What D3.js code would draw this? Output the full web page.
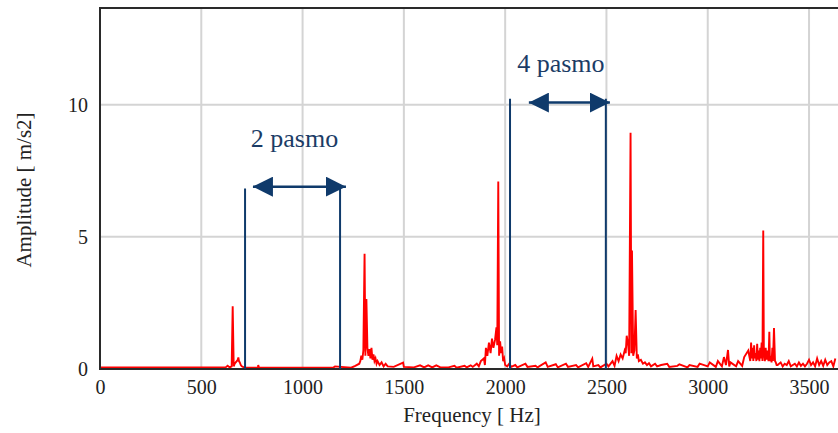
<!DOCTYPE html>
<html>
<head>
<meta charset="utf-8">
<script src="https://cdn.jsdelivr.net/npm/d3@7"></script>
<style>
  body { margin: 0; background: #fff; }
  svg { display: block; }
</style>
</head>
<body>
<div id="chart"></div>
<script>
// spectrum (Hz, m/s2)
var freqs = [0, 100, 200, 300, 400, 500, 600, 620, 630, 640, 650, 655, 660, 665, 670, 675, 680, 683, 686, 690, 695, 700, 710, 720,
    780, 781, 785, 900, 1000, 1100, 1150, 1160, 1240, 1260, 1280,
    1285, 1290, 1295, 1300, 1306, 1310, 1315, 1320, 1325, 1330, 1335, 1340, 1345, 1350, 1355, 1360, 1365, 1370, 1380, 1390, 1400, 1410, 1420,
    1450, 1496, 1500, 1550, 1580, 1600, 1620, 1640, 1660, 1680, 1720, 1750, 1760, 1800, 1810, 1830, 1840, 1860, 1870, 1880,
    1895, 1900, 1905, 1912, 1920, 1928, 1935, 1942, 1950, 1957, 1961, 1966, 1970, 1975, 1980, 1985, 1990, 1995, 2000, 2010, 2020,
    2030, 2050, 2060, 2100, 2110, 2150, 2160, 2200, 2210, 2250, 2260, 2300, 2310, 2350, 2360, 2400, 2410, 2430, 2435, 2460, 2470, 2500, 2510, 2530, 2540, 2550,
    2560, 2570, 2580, 2590, 2595, 2600, 2607, 2612, 2619, 2623, 2626, 2632, 2638, 2644, 2650, 2655, 2660, 2670, 2680, 2690, 2700, 2710, 2720,
    2740, 2750, 2770, 2800, 2810, 2850, 2860, 2900, 2910, 2950, 2960, 3000, 3010, 3040, 3050, 3070, 3080, 3090, 3100, 3106, 3112, 3140, 3150, 3170, 3180, 3200,
    3210, 3214, 3218, 3222, 3225, 3229, 3232, 3236, 3240, 3244, 3248, 3252, 3255, 3259, 3262, 3266, 3270, 3274, 3277, 3282, 3286, 3290, 3295, 3300, 3304, 3307, 3311, 3315, 3319, 3322, 3327, 3332, 3336, 3340, 3345, 3360,
    3370, 3380, 3390, 3400, 3410, 3420, 3430, 3440, 3450, 3460, 3470, 3480, 3490, 3500, 3510, 3520, 3530, 3540, 3550, 3560, 3570, 3580, 3590, 3600, 3610, 3620, 3630, 3645]
var amps = [0.06, 0.06, 0.06, 0.06, 0.06, 0.06, 0.06, 0.06, 0.12, 0.06, 0.1, 2.37, 0.1, 0.2, 0.25, 0.3, 0.35, 0.44, 0.3, 0.25, 0.15, 0.1, 0.06, 0.05,
    0.05, 0.15, 0.05, 0.05, 0.05, 0.05, 0.05, 0.1, 0.05, 0.12, 0.2,
    0.3, 0.5, 0.35, 0.7, 4.36, 0.5, 2.65, 0.8, 0.5, 0.75, 0.4, 0.8, 0.35, 0.55, 0.3, 0.4, 0.2, 0.3, 0.15, 0.25, 0.1, 0.2, 0.1,
    0.08, 0.24, 0.08, 0.06, 0.14, 0.06, 0.14, 0.06, 0.14, 0.06, 0.06, 0.12, 0.05, 0.12, 0.06, 0.14, 0.08, 0.2, 0.1, 0.3,
    0.4, 0.15, 0.8, 0.5, 1.0, 0.6, 1.15, 0.8, 1.1, 1.58, 0.9, 7.09, 0.5, 1.05, 0.6, 0.85, 0.3, 0.4, 0.15, 0.1, 0.2,
    0.08, 0.15, 0.06, 0.2, 0.08, 0.12, 0.06, 0.25, 0.08, 0.18, 0.06, 0.2, 0.08, 0.15, 0.06, 0.22, 0.08, 0.39, 0.1, 0.15, 0.06, 0.2, 0.1, 0.3, 0.12, 0.5,
    0.3, 0.55, 0.4, 0.7, 0.6, 1.26, 0.9, 0.5, 8.94, 0.6, 4.48, 0.5, 0.7, 2.23, 0.4, 0.55, 0.3, 0.35, 0.2, 0.25, 0.15, 0.22, 0.1,
    0.2, 0.1, 0.15, 0.2, 0.08, 0.12, 0.18, 0.06, 0.15, 0.08, 0.2, 0.1, 0.25, 0.08, 0.3, 0.1, 0.45, 0.15, 0.72, 0.1, 0.25, 0.1, 0.3, 0.12, 0.45,
    0.7, 0.3, 1.0, 0.4, 0.8, 0.3, 0.9, 0.4, 0.6, 0.3, 0.95, 0.35, 0.7, 0.3, 0.8, 0.4, 1.0, 0.3, 5.24, 0.6, 0.3, 0.8, 0.35, 0.7, 0.3, 1.41, 0.3, 0.5, 0.25, 0.8, 0.3, 1.55, 0.3, 0.25, 0.15, 0.15,
    0.25, 0.1, 0.2, 0.15, 0.3, 0.1, 0.15, 0.2, 0.1, 0.25, 0.12, 0.2, 0.1, 0.2, 0.35, 0.15, 0.25, 0.1, 0.4, 0.15, 0.3, 0.12, 0.35, 0.15, 0.25, 0.3, 0.1, 0.4]

// band markers: vertical lines, arrows between them, labels
var bandNames = ['2 pasmo', '4 pasmo']
var bandEdges = [[716, 1185], [2024, 2497]]
var bandTops = [6.83, 10.23]
var arrowSpans = [[755, 1214], [2117, 2517]]
var arrowLevels = [6.9, 10.08]
var labelPos = [[960, 8.4], [2275, 11.24]]

var xTicks = [0, 500, 1000, 1500, 2000, 2500, 3000, 3500]
var yTicks = [0, 5, 10]

var serif = '"Liberation Serif", "DejaVu Serif", serif'

var width = 838, height = 433,
    margins = { top: 8, right: 0, bottom: 64, left: 100 }

var x = d3.scaleLinear().domain([0, 3643]).range([margins.left, width - margins.right])
var y = d3.scaleLinear().domain([0, 13.66]).range([height - margins.bottom, margins.top])

var svg = d3.select('#chart').append('svg')
    .attr('width', width)
    .attr('height', height)
    .attr('font-family', serif)

// grid
svg.append('g').selectAll('line').data(xTicks.slice(1)).join('line')
    .attr('x1', d => x(d)).attr('x2', d => x(d))
    .attr('y1', y.range()[1]).attr('y2', y.range()[0])
    .attr('stroke', '#d4d4d4').attr('stroke-width', 2)
svg.append('g').selectAll('line').data(yTicks.slice(1)).join('line')
    .attr('x1', x.range()[0]).attr('x2', x.range()[1])
    .attr('y1', d => y(d)).attr('y2', d => y(d))
    .attr('stroke', '#d4d4d4').attr('stroke-width', 2)

// spectrum
var line = d3.line().x(d => x(d[0])).y(d => y(d[1]))
svg.append('path')
    .datum(d3.zip(freqs, amps))
    .attr('d', line)
    .attr('fill', 'none')
    .attr('stroke', '#ff0000')
    .attr('stroke-width', 1.9)

// frame
svg.append('path')
    .attr('d', 'M' + x.range()[1] + ',' + y.range()[1] + 'H' + x.range()[0] + 'V' + y.range()[0] + 'H' + x.range()[1])
    .attr('fill', 'none').attr('stroke', '#2a2a2a').attr('stroke-width', 2)

// axes
var xAxis = svg.append('g')
    .attr('transform', 'translate(0,' + y.range()[0] + ')')
    .call(d3.axisBottom(x).tickValues(xTicks).tickSize(0).tickPadding(11).tickFormat(d3.format('d')))
var yAxis = svg.append('g')
    .attr('transform', 'translate(' + x.range()[0] + ',0)')
    .call(d3.axisLeft(y).tickValues(yTicks).tickSize(0).tickPadding(12).tickFormat(d3.format('d')))
;[xAxis, yAxis].forEach(function (a) {
    a.attr('font-family', serif).attr('font-size', 20)
    a.select('.domain').remove()
    a.selectAll('text').attr('fill', '#222')
})

svg.append('text')
    .attr('x', 472).attr('y', 422)
    .attr('text-anchor', 'middle')
    .attr('font-size', 21).attr('fill', '#222')
    .text('Frequency [ Hz]')
svg.append('text')
    .attr('transform', 'translate(31,190) rotate(-90)')
    .attr('text-anchor', 'middle')
    .attr('font-size', 21).attr('fill', '#222')
    .text('Amplitude [ m/s2]')

// band annotations
var navy = '#0f3a6b'
var defs = svg.append('defs')
defs.append('marker').attr('id', 'head')
    .attr('viewBox', '0 0 20 20').attr('refX', 20).attr('refY', 10)
    .attr('markerWidth', 20).attr('markerHeight', 20)
    .attr('markerUnits', 'userSpaceOnUse').attr('orient', 'auto-start-reverse')
    .append('path').attr('d', 'M0,0L20,10L0,20Z').attr('fill', navy)

bandNames.forEach(function (name, i) {
    var g = svg.append('g')
    g.selectAll('line.edge').data(bandEdges[i]).join('line')
        .attr('class', 'edge')
        .attr('x1', d => x(d)).attr('x2', d => x(d))
        .attr('y1', y(0)).attr('y2', y(bandTops[i]))
        .attr('stroke', navy).attr('stroke-width', 2)
    g.append('line')
        .attr('x1', x(arrowSpans[i][0])).attr('x2', x(arrowSpans[i][1]))
        .attr('y1', y(arrowLevels[i])).attr('y2', y(arrowLevels[i]))
        .attr('stroke', navy).attr('stroke-width', 2.5)
        .attr('marker-start', 'url(#head)').attr('marker-end', 'url(#head)')
    g.append('text')
        .attr('x', x(labelPos[i][0])).attr('y', y(labelPos[i][1]))
        .attr('text-anchor', 'middle')
        .attr('font-size', 26).attr('fill', '#1b3c66')
        .text(name)
})
</script>
</body>
</html>
